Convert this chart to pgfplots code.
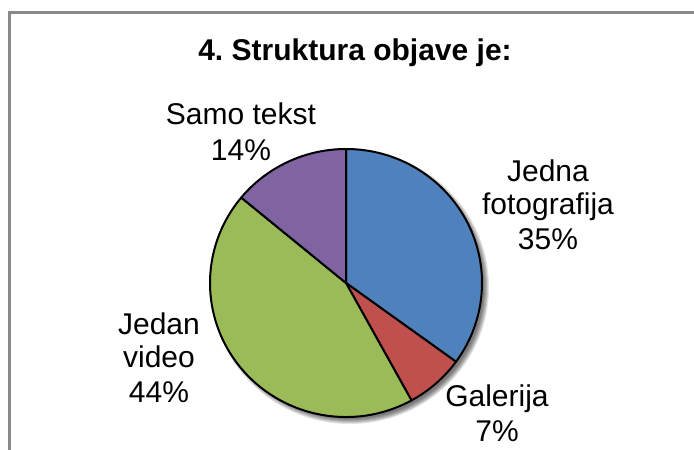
\documentclass[border=0pt]{standalone}
\usepackage{fontspec}
\setmainfont{Liberation Sans}
\usepackage{pgfplots}
\pgfplotsset{compat=1.18}
\usepackage{pgfplotstable}
\definecolor{pie0}{HTML}{4F81BD}
\definecolor{pie1}{HTML}{C0504D}
\definecolor{pie2}{HTML}{9BBB59}
\definecolor{pie3}{HTML}{8064A2}
\definecolor{framegray}{HTML}{8A8A8A}
\frenchspacing
\pgfplotstableread{
label value
Jedna_fotografija 35
Galerija 7
Jedan_video 44
Samo_tekst 14
}\piedata
\begin{document}
\begin{tikzpicture}
\path[use as bounding box, fill=white] (0,0) rectangle (520.5pt,337.5pt);
\begin{axis}[at={(0,0)}, anchor=south west, x=0.75pt, y=0.75pt,
  xmin=0, xmax=694, ymin=0, ymax=450, hide axis, clip=false]
% frame
\draw[framegray, line width=2.25pt] (axis cs:9,0) -- (axis cs:9,437.5) -- (axis cs:700,437.5);
% shadow
\pgfplotsforeachungrouped \r in {0,1,2,3,4,5}{%
  \pgfmathsetmacro\rx{0.75*(134+\r)}%
  \pgfmathsetmacro\ry{0.75*(132+\r)}%
  \edef\temp{\noexpand\fill[black, opacity=0.11] (axis cs:350,163) ellipse [x radius=\rx pt, y radius=\ry pt];}%
  \temp
}
% pie slices
\def\cum{0}
\pgfplotsforeachungrouped \i in {0,1,2,3}{%
  \pgfplotstablegetelem{\i}{value}\of\piedata
  \let\pieval\pgfplotsretval
  \pgfmathsetmacro\a{90-3.6*\cum}%
  \pgfmathsetmacro\b{90-3.6*(\cum+\pieval)}%
  \pgfmathsetmacro\cum{\cum+\pieval}%
  \edef\temp{\noexpand\filldraw[fill=pie\i, draw=black, line width=1.5pt, line join=round] (axis cs:346,167) -- ++(\a:102pt and 100.5pt) arc[start angle=\a, end angle=\b, x radius=102pt, y radius=100.5pt] -- cycle;}%
  \temp
}
% title
\node[anchor=base, inner sep=0pt, font=\fontsize{22.5}{25}\selectfont\bfseries] at (axis cs:355,389) {4. Struktura objave je:};
% labels
\tikzset{lbl/.style={anchor=base, inner sep=0pt, font=\fontsize{22.5}{25}\selectfont}}
\node[lbl] at (axis cs:241,325) {Samo tekst};
\node[lbl] at (axis cs:241,289) {14\%};
\node[lbl] at (axis cs:548,268) {Jedna};
\node[lbl] at (axis cs:548,235) {fotografija};
\node[lbl] at (axis cs:548,200) {35\%};
\node[lbl] at (axis cs:497,43) {Galerija};
\node[lbl] at (axis cs:497,8) {7\%};
\node[lbl] at (axis cs:159,115) {Jedan};
\node[lbl] at (axis cs:159,82) {video};
\node[lbl] at (axis cs:159,47) {44\%};
\end{axis}
\end{tikzpicture}
\end{document}
